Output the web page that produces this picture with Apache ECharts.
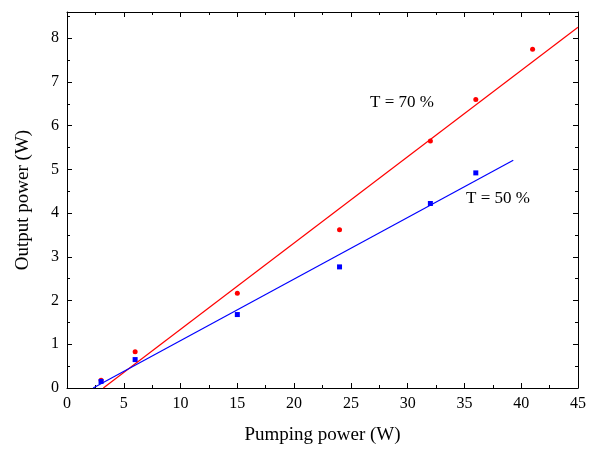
<!DOCTYPE html>
<html><head><meta charset="utf-8">
<script src="https://cdn.jsdelivr.net/npm/echarts@6/dist/echarts.min.js"></script>
<style>html,body{margin:0;background:#fff}#c{width:590px;height:458px}</style>
</head><body><div id="c"></div>
<script>
const redX = [3, 6, 15, 24, 32, 36, 41];
const redY = [0.18, 0.83, 2.17, 3.62, 5.65, 6.6, 7.75];
const blueX = [3, 6, 15, 24, 32, 36];
const blueY = [0.15, 0.65, 1.68, 2.77, 4.22, 4.92];
const redFit = [[3.2, 0], [45, 8.25]];
const blueFit = [[2.3, 0], [39.3, 5.21]];

const font = "Liberation Serif";
const chart = echarts.init(document.getElementById("c"));
const axisBase = {
  axisLine: { show: true, onZero: false, lineStyle: { color: "#000", width: 1 } },
  axisTick: { show: true, inside: true, length: 5, lineStyle: { color: "#000" } },
  minorTick: { show: true, splitNumber: 2, length: 3, lineStyle: { color: "#000" } },
  splitLine: { show: false },
  axisLabel: { color: "#000", fontFamily: font, fontSize: 16 },
  nameTextStyle: { color: "#000", fontFamily: font, fontSize: 19 },
};
const mirror = (a) => ({ ...a, axisLabel: { show: false }, name: "" });
const xAxis = { ...axisBase, type: "value", min: 0, max: 45, interval: 5,
  name: "Pumping power (W)", nameLocation: "middle", nameGap: 38 };
const yAxis = { ...axisBase, type: "value", min: 0, max: 8.6, interval: 1,
  axisLabel: { ...axisBase.axisLabel, showMaxLabel: false },
  name: "Output power (W)", nameLocation: "middle", nameGap: 34 };
chart.setOption({
  animation: false,
  grid: { left: 67, right: 12, top: 12, bottom: 70 },
  xAxis: [xAxis, { ...mirror(xAxis), position: "top" }],
  yAxis: [yAxis, { ...mirror(yAxis), position: "right" }],
  series: [
    { type: "line", data: redFit, symbol: "none", lineStyle: { color: "#ff0000", width: 1.2 } },
    { type: "line", data: blueFit, symbol: "none", lineStyle: { color: "#0000ff", width: 1.2 } },
    { type: "scatter", data: redX.map((x, i) => [x, redY[i]]), symbol: "circle", symbolSize: 5, itemStyle: { color: "#ff0000", opacity: 1 } },
    { type: "scatter", data: blueX.map((x, i) => [x, blueY[i]]), symbol: "rect", symbolSize: 5, itemStyle: { color: "#0000ff", opacity: 1 } },
  ],
  graphic: [
    { type: "text", left: 370, top: 94, style: { text: "T = 70 %", font: "17px " + font, fill: "#000" } },
    { type: "text", left: 466, top: 190, style: { text: "T = 50 %", font: "17px " + font, fill: "#000" } },
  ],
});
</script></body></html>
